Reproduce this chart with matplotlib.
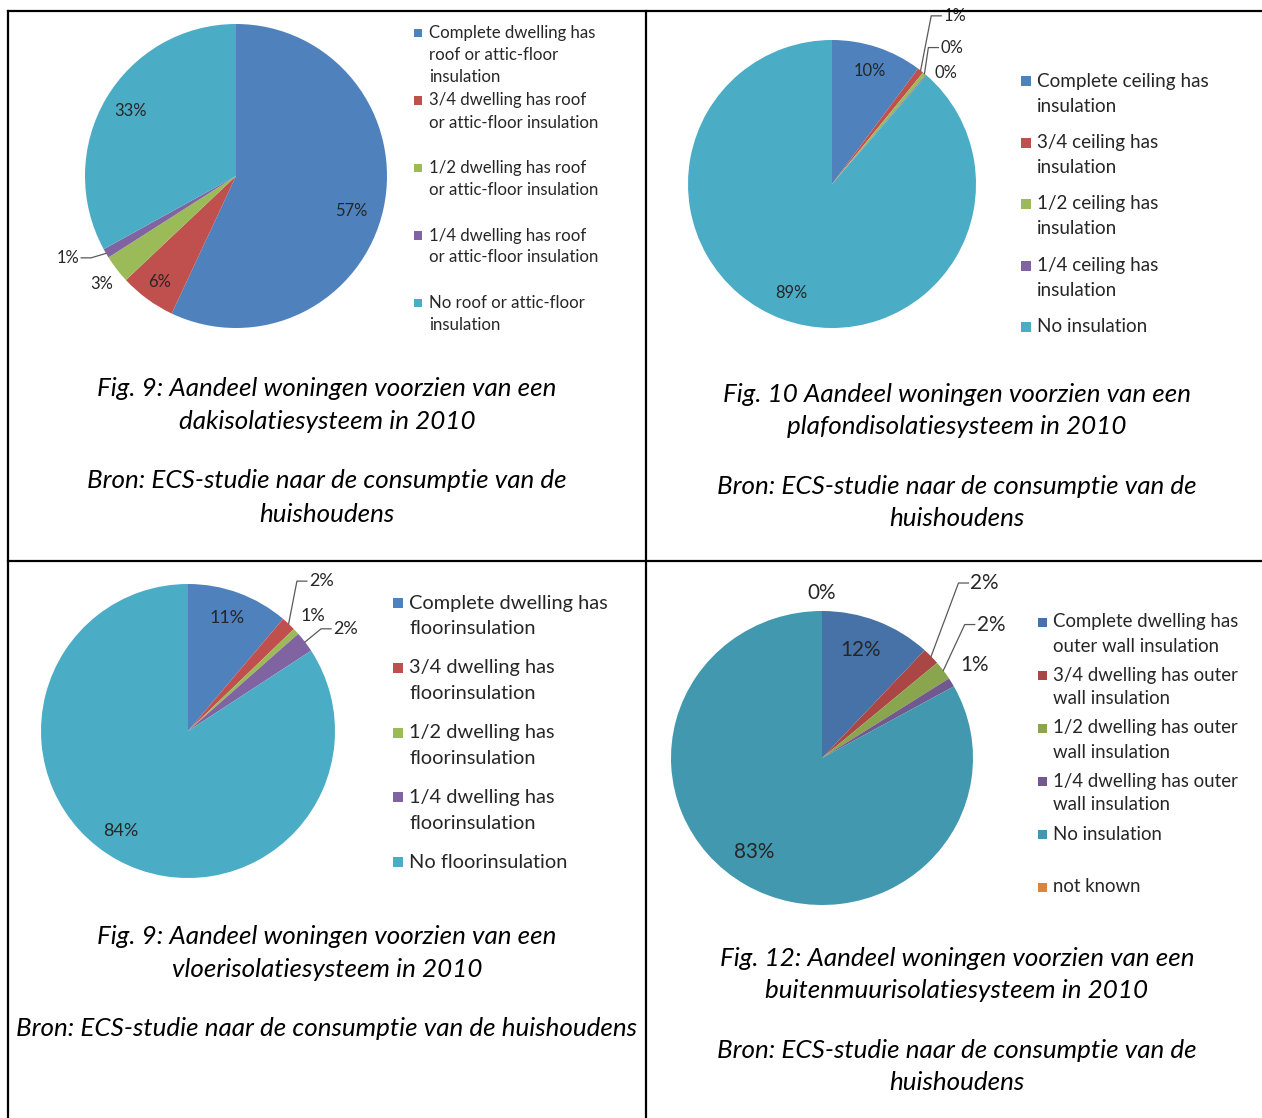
import numpy as np
import matplotlib
matplotlib.use("Agg")
import matplotlib.pyplot as plt
from matplotlib.lines import Line2D
from matplotlib.patches import Rectangle

plt.rcParams['font.family'] = ['Lato', 'DejaVu Sans']

# **Data**
roof_labels = ["Complete dwelling has\nroof or attic-floor\ninsulation",
               "3/4 dwelling has roof\nor attic-floor insulation",
               "1/2 dwelling has roof\nor attic-floor insulation",
               "1/4 dwelling has roof\nor attic-floor insulation",
               "No roof or attic-floor\ninsulation"]
roof_values = [57, 6, 3, 1, 33]

ceiling_labels = ["Complete ceiling has\ninsulation", "3/4 ceiling has\ninsulation",
                  "1/2 ceiling has\ninsulation", "1/4 ceiling has\ninsulation",
                  "No insulation"]
ceiling_values = [10.2, 0.7, 0.4, 0.1, 88.6]

floor_labels = ["Complete dwelling has\nfloorinsulation", "3/4 dwelling has\nfloorinsulation",
                "1/2 dwelling has\nfloorinsulation", "1/4 dwelling has\nfloorinsulation",
                "No floorinsulation"]
floor_values = [11.2, 1.6, 0.7, 2.3, 84.2]

wall_labels = ["Complete dwelling has\nouter wall insulation", "3/4 dwelling has outer\nwall insulation",
               "1/2 dwelling has outer\nwall insulation", "1/4 dwelling has outer\nwall insulation",
               "No insulation", "not known"]
wall_values = [11.9, 1.9, 2.1, 1.0, 83.1, 0.0]

captions = [
    ["Fig. 9: Aandeel woningen voorzien van een", "dakisolatiesysteem in 2010",
     "Bron: ECS-studie naar de consumptie van de", "huishoudens"],
    ["Fig. 10 Aandeel woningen voorzien van een", "plafondisolatiesysteem in 2010",
     "Bron: ECS-studie naar de consumptie van de", "huishoudens"],
    ["Fig. 9: Aandeel woningen voorzien van een", "vloerisolatiesysteem in 2010",
     "Bron: ECS-studie naar de consumptie van de huishoudens"],
    ["Fig. 12: Aandeel woningen voorzien van een", "buitenmuurisolatiesysteem in 2010",
     "Bron: ECS-studie naar de consumptie van de", "huishoudens"],
]

office = ['#4F81BD', '#C0504D', '#9BBB59', '#8064A2', '#4BACC6']
office_wall = ['#4672A8', '#AA4643', '#89A54E', '#71588F', '#4198AF', '#DB843D']

W, H = 1262, 1118
fig = plt.figure(figsize=(W / 100, H / 100), dpi=100)
PT = 72 / 100  # px -> pt


def fx(x):
    return x / W


def fy(y):
    return 1 - y / H


def pie_panel(cx, cy, rx, ry, values, colors, dist, dang, leader, fs):
    half = 300
    ax = fig.add_axes([fx(cx - half), fy(cy + half), 2 * half / W, 2 * half / H])
    wedges, _ = ax.pie(values, colors=colors, startangle=90, counterclock=False,
                       wedgeprops=dict(linewidth=0))
    ax.set_aspect('auto')
    ax.set_xlim(-half / rx, half / rx)
    ax.set_ylim(-half / ry, half / ry)
    ax.axis('off')
    for i, w in enumerate(wedges):
        mid = np.deg2rad((w.theta1 + w.theta2) / 2)
        t = mid + np.deg2rad(dang[i])
        tx, ty = dist[i] * np.cos(t), dist[i] * np.sin(t)
        txt = f"{values[i]:.0f}%"
        if leader[i]:
            side = 1 if np.cos(t) > 0 else -1
            ex = tx - side * 12 / rx
            ax.plot([np.cos(mid), ex, tx - side * 2 / rx], [np.sin(mid), ty, ty],
                    color='#595959', lw=0.9, clip_on=False)
            ax.text(tx, ty, txt, ha='left' if side > 0 else 'right', va='center',
                    fontsize=fs * PT, color='#262626')
        else:
            ax.text(tx, ty, txt, ha='center', va='center', fontsize=fs * PT, color='#262626')
    return ax


def legend(x, y0, slot, line_h, labels, colors, fs, msize=9):
    for i, (lab, c) in enumerate(zip(labels, colors)):
        y = y0 + i * slot
        fig.patches.append(Rectangle((fx(x - msize / 2), fy(y + msize / 2)), msize / W, msize / H,
                                     transform=fig.transFigure, facecolor=c, edgecolor='none'))
        for k, line in enumerate(lab.split("\n")):
            fig.text(fx(x + 11), fy(y + k * line_h), line, ha='left', va='center',
                     fontsize=fs * PT, color='#262626')


def caption(cx, y0, lines, fs=26):
    offsets = [0, 32.5, 92, 125]
    for k, line in enumerate(lines):
        fig.text(fx(cx), fy(y0 + offsets[k]), line, ha='center', va='center',
                 fontsize=fs * PT, style='italic', color='black')


# Panel 1: roof
pie_panel(236, 176, 151, 152, roof_values, office,
          dist=[0.80, 0.86, 1.14, 1.17, 0.82], dang=[-4.2, 0, 0.7, -3.2, -0.7],
          leader=[0, 0, 0, 1, 0], fs=16.5)
legend(418, 33, 67.5, 22, roof_labels, office, fs=16.8, msize=8)
caption(327, 389, captions[0])

# Panel 2: ceiling
pie_panel(832, 184, 144, 144, ceiling_values, office,
          dist=[0.83, 1.40, 1.21, 1.105, 0.81], dang=[0, 4.5, 1.5, -4.9, 0],
          leader=[0, 1, 1, 0, 0], fs=16.5)
legend(1026, 81, 61.5, 25, ceiling_labels, office, fs=18.9, msize=10)
caption(957, 394, captions[1])

# Panel 3: floor
pie_panel(188, 731, 147, 147, floor_values, office,
          dist=[0.817, 1.31, 1.153, 1.207, 0.82], dang=[1, 4.3, 0, -2.1, -5.3],
          leader=[0, 1, 0, 1, 0], fs=18)
legend(398, 603, 64.8, 26, floor_labels, office, fs=20, msize=10)
caption(327, 937, captions[2])

# Panel 4: outer wall
pie_panel(822, 758, 151, 147, wall_values, office_wall,
          dist=[0.778, 1.544, 1.369, 1.195, 0.782, 1.12], dang=[2.3, 6.7, 5, 1.1, -4.5, 0],
          leader=[0, 1, 1, 0, 0, 0], fs=20.7)
legend(1042, 622, 53, 24, wall_labels, office_wall, fs=18.6, msize=9)
caption(957, 958, captions[3])

# table borders
for xs, ys in [([8, 1262], [11, 11]), ([8, 1262], [561, 561]),
               ([8, 8], [11, 1118]), ([646, 646], [11, 1118])]:
    fig.add_artist(Line2D([fx(v) for v in xs], [fy(v) for v in ys], color='black', lw=1.6))

fig.savefig("out.png", dpi=100)
